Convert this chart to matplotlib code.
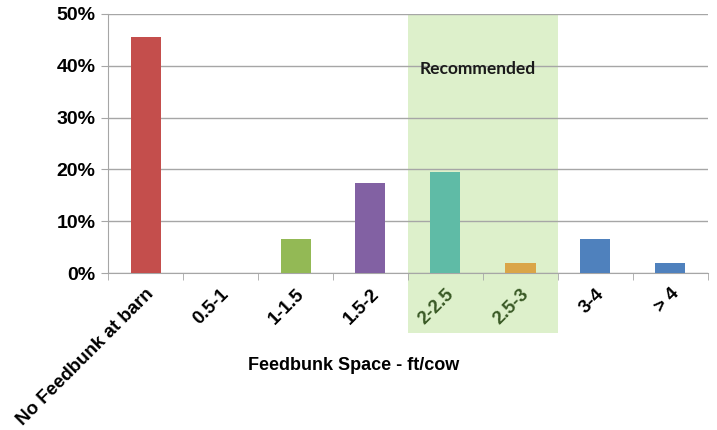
import matplotlib.pyplot as plt
import matplotlib.transforms as mtransforms
from matplotlib.patches import Rectangle
from matplotlib.ticker import FixedLocator, PercentFormatter

categories = ["No Feedbunk at barn", "0.5-1", "1-1.5", "1.5-2", "2-2.5", "2.5-3", "3-4", "> 4"]
values = [45.5, 0.0, 6.5, 17.4, 19.5, 2.0, 6.5, 2.0]
bar_colors = ["#C44E4C", "#C44E4C", "#93B955", "#8261A3", "#5FBBA6", "#DAA548", "#4F81BD", "#4F81BD"]
recommended = ["2-2.5", "2.5-3"]
yticks = [0, 10, 20, 30, 40, 50]

plt.rcParams["font.family"] = ["Liberation Sans", "DejaVu Sans"]

fig = plt.figure(figsize=(7.17, 4.30), dpi=100)
ax = fig.add_axes([108 / 717, 1 - 273 / 430, 600 / 717, 259 / 430])

x = list(range(len(categories)))
ax.bar(x, values, width=0.4, color=bar_colors, zorder=3)

# recommended zone, reaching down into the tick labels
rec_idx = [categories.index(c) for c in recommended]
trans = mtransforms.blended_transform_factory(ax.transData, ax.transAxes)
ax.add_patch(Rectangle((min(rec_idx) - 0.5, -0.232), len(rec_idx), 1.232,
                       transform=trans, facecolor="#DDF0CB", edgecolor="none",
                       zorder=0, clip_on=False))
ax.text(4.43, 39.4, "Recommended", fontsize=12.5, fontweight="bold",
        family=["Lato", "DejaVu Sans"], color="#1A1A1A", ha="center", va="center", zorder=4)

ax.set_xlim(-0.5, len(categories) - 0.5)
ax.set_ylim(0, 50)
ax.set_yticks(yticks)
ax.yaxis.set_major_formatter(PercentFormatter(decimals=0))
ax.grid(axis="y", color="#A6A6A6", linewidth=1, zorder=1)
ax.set_axisbelow(False)
for gl in ax.get_ygridlines():
    gl.set_zorder(1)

ax.set_xticks(x)
ax.set_xticklabels(categories, rotation=45, ha="right", va="top",
                   rotation_mode="anchor", fontweight="bold", fontsize=13.5)
for lbl in ax.get_xticklabels():
    if lbl.get_text() in recommended:
        lbl.set_color("#3A5A26")
ax.xaxis.set_minor_locator(FixedLocator([i - 0.5 for i in range(len(categories) + 1)]))
ax.tick_params(axis="x", which="major", length=0, pad=9)
ax.tick_params(axis="x", which="minor", length=5, color="#A6A6A6", direction="out")
ax.tick_params(axis="y", length=5, color="#A6A6A6", labelsize=14, pad=4)
for lbl in ax.get_yticklabels():
    lbl.set_fontweight("bold")

for s in ["top", "right"]:
    ax.spines[s].set_visible(False)
for s in ["left", "bottom"]:
    ax.spines[s].set_color("#A6A6A6")
    ax.spines[s].set_zorder(2)

fig.text(354 / 717, 1 - 365 / 430, "Feedbunk Space - ft/cow", ha="center", va="center",
         fontsize=13, fontweight="bold")

fig.savefig("out.png", dpi=100)
